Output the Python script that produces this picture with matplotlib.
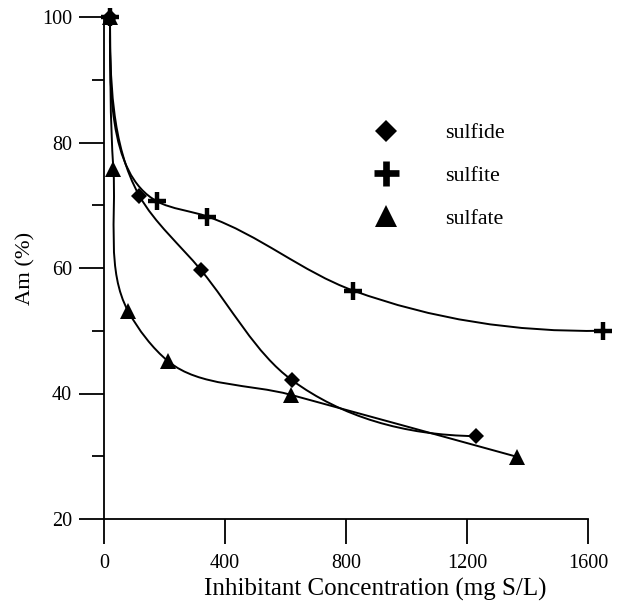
import numpy as np
import matplotlib
matplotlib.use("Agg")
from matplotlib import pyplot as plt
from matplotlib.path import Path
from matplotlib.patches import PathPatch
from matplotlib.lines import Line2D

plt.rcParams['font.family'] = ['Liberation Serif', 'DejaVu Serif']

# values
conc_sulfide = [20, 117, 320, 622, 1230]
am_sulfide = [100, 71.5, 59.7, 42.1, 33.2]
conc_sulfite = [20, 176, 342, 824, 1650]
am_sulfite = [100, 70.6, 68.2, 56.4, 50.0]
conc_sulfate = [20, 31, 80, 213, 617, 1366]
am_sulfate = [100, 75.7, 53.1, 45.1, 39.8, 29.9]

xticks = [0, 400, 800, 1200, 1600]
yticks = [20, 40, 60, 80, 100]
yminor = [30, 50, 70, 90]

# pixels per data unit, used only to shape the smooth curves
SX, SY = 0.3025, 6.27


def smooth_path(xs, ys):
    # bessel-type bezier through the points (chord length parametrisation)
    p = np.column_stack([np.asarray(xs) * SX, np.asarray(ys) * SY])
    n = len(p)
    d = p[1:] - p[:-1]
    h = np.hypot(d[:, 0], d[:, 1])
    u = d / h[:, None]
    m = np.zeros_like(p)
    for i in range(1, n - 1):
        m[i] = (h[i] * u[i - 1] + h[i - 1] * u[i]) / (h[i - 1] + h[i])
    m[0] = [0, -1]               # leave the top point going straight down
    m[-1] = 2 * u[-1] - m[-2]
    verts = [p[0]]
    codes = [Path.MOVETO]
    for i in range(n - 1):
        verts += [p[i] + m[i] * h[i] / 3,
                  p[i + 1] - m[i + 1] * h[i] / 3,
                  p[i + 1]]
        codes += [Path.CURVE4] * 3
    verts = np.array(verts)
    verts[:, 0] /= SX
    verts[:, 1] /= SY
    return Path(verts, codes)


fig = plt.figure(figsize=(6.23, 6.07), dpi=100)
ax = fig.add_axes([104 / 623, 88 / 607, 1680 * SX / 623, 502 / 607])

series = [
    (conc_sulfide, am_sulfide, 'D', dict(ms=7.8, mew=0)),
    (conc_sulfite, am_sulfite, '+', dict(ms=12.5, mew=3.2)),
    (conc_sulfate, am_sulfate, '^', dict(ms=12, mew=0)),
]
for xs, ys, mk, kw in series:
    ax.add_patch(PathPatch(smooth_path(xs, ys), fill=False, lw=1.4,
                           ec='black', clip_on=False))
    ax.plot(xs, ys, linestyle='none', marker=mk, color='black',
            clip_on=False, zorder=3, **kw)

ax.set_xlim(0, 1680)
ax.set_ylim(20, 100)
ax.spines['top'].set_visible(False)
ax.spines['right'].set_visible(False)
ax.spines['bottom'].set_bounds(0, 1600)
for s in ['left', 'bottom']:
    ax.spines[s].set_linewidth(1.3)

ax.set_xticks(xticks)
ax.set_yticks(yticks)
ax.set_yticks(yminor, minor=True)
ax.tick_params(axis='both', which='major', direction='out', length=18,
               width=1.3, labelsize=14.5)
ax.tick_params(axis='x', pad=7)
ax.tick_params(axis='y', pad=5)
ax.tick_params(axis='y', which='minor', direction='out', length=9, width=1.3)

ax.set_xlabel('Inhibitant Concentration (mg S/L)', fontsize=18, labelpad=0)
ax.xaxis.set_label_coords(0.533, -0.118)
ax.set_ylabel('Am (%)', fontsize=16.2, labelpad=5)

handles = [
    Line2D([], [], ls='none', marker='D', color='black', ms=11.5, mew=0),
    Line2D([], [], ls='none', marker='+', color='black', ms=18, mew=4.8),
    Line2D([], [], ls='none', marker='^', color='black', ms=16.5, mew=0),
]
ax.legend(handles, ['sulfide', 'sulfite', 'sulfate'], frameon=False,
          fontsize=15.8, handlelength=1.0, handletextpad=2.2,
          labelspacing=1.02, borderpad=0, loc='upper left',
          bbox_to_anchor=(364 / 623, 1 - 112 / 607),
          bbox_transform=fig.transFigure)

fig.savefig('out.png', dpi=100)
